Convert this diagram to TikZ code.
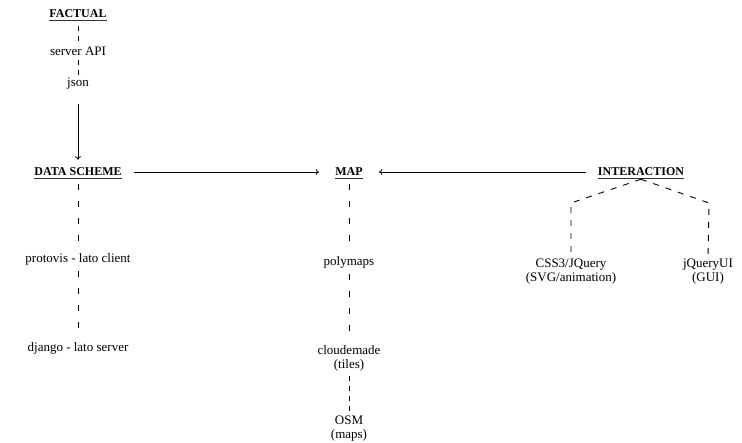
\documentclass[tikz,border=0pt]{standalone}
\usepackage{fontspec}
\setmainfont{Liberation Serif}
\usetikzlibrary{arrows.meta}
\tikzset{
  lbl/.style={inner xsep=0pt, inner ysep=2pt, align=center, font=\fontsize{13}{13.5}\selectfont},
  head/.style={inner xsep=0pt, inner ysep=2pt, font=\fontsize{12}{13}\selectfont\bfseries},
  uline/.style={draw=black!80, line width=1.2pt},
  dsh/.style={dash pattern=on 5.5pt off 11.5pt, line width=0.9pt},
  dshort/.style={dash pattern=on 5pt off 5pt, line width=0.9pt},
  dtree/.style={dash pattern=on 6pt off 7pt, line width=0.9pt},
  arr/.style={line width=0.8pt, -{To[length=3.5pt,width=6pt]}},
}
\begin{document}
\begin{tikzpicture}[x=1pt,y=-1pt]
\useasboundingbox (0,0) rectangle (742,442);
% left column
\node[head] (factual) at (78,14) {FACTUAL};
\node[lbl] (api) at (78,51) {server API};
\node[lbl] (json) at (78,84) {json};
\node[head] (ds) at (78,172) {DATA SCHEME};
\node[lbl] (proto) at (78,259) {protovis - lato client};
\node[lbl] (django) at (78,348) {django - lato server};
% middle column
\node[head] (map) at (349,172) {MAP};
\node[lbl] (poly) at (349,262) {polymaps};
\node[lbl] (cloud) at (349,358.5) {cloudemade\\(tiles)};
\node[lbl] (osm) at (349,428.5) {OSM\\(maps)};
% right
\node[head] (inter) at (641,172) {INTERACTION};
\node[lbl] (css) at (571,271.5) {CSS3/JQuery\\(SVG/animation)};
\node[lbl] (jqui) at (708,271.5) {jQueryUI\\(GUI)};
\coordinate (cl) at (571,203);
\coordinate (cr) at (709,203);
% underlines
\foreach \n in {factual,ds,map,inter}
  \draw[uline] (\n.south west) -- (\n.south east);
% connectors
\draw[dshort, shorten <=6pt, shorten >=0pt] (factual) -- (api);
\draw[dshort, shorten <=2pt, shorten >=0pt] (api) -- (json);
\draw[arr, shorten <=12pt, shorten >=6pt] (json) -- (ds);
\draw[dsh, shorten <=6pt, shorten >=2pt] (ds) -- (proto);
\draw[dsh, shorten <=4pt, shorten >=2pt] (proto) -- (django);
\draw[arr, shorten <=12pt, shorten >=16pt] (ds) -- (map);
\draw[arr, shorten <=12pt, shorten >=16pt] (inter) -- (map);
\draw[dsh, shorten <=6pt, shorten >=2pt] (map) -- (poly);
\draw[dsh, shorten <=4pt, shorten >=2pt] (poly) -- (cloud);
\draw[dshort, shorten <=3pt, shorten >=0pt] (cloud) -- (osm);
\draw[dtree] ([yshift=-1pt]inter.south) -- (cl) -- ([yshift=-2pt]css.north);
\draw[dtree] ([yshift=-1pt]inter.south) -- (cr) -- ([yshift=-2pt]jqui.north);
\end{tikzpicture}
\end{document}
